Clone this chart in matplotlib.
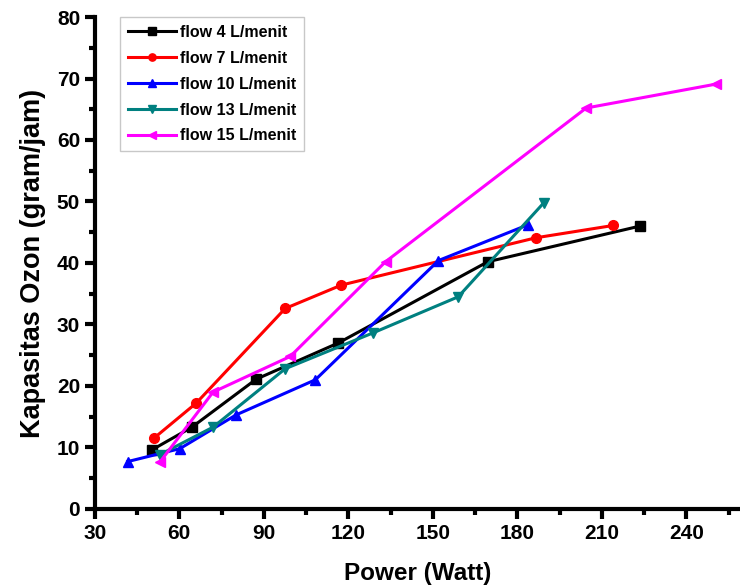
import matplotlib
matplotlib.use('Agg')
from matplotlib import pyplot as plt
from matplotlib.ticker import MultipleLocator

plt.rcParams['font.family'] = ['Liberation Sans', 'DejaVu Sans']
plt.rcParams['font.weight'] = 'bold'

# data
labels = ['flow 4 L/menit', 'flow 7 L/menit', 'flow 10 L/menit',
          'flow 13 L/menit', 'flow 15 L/menit']

power_4 = [50.3, 64.5, 87.3, 116.5, 169.5, 223.5]
ozon_4 = [9.6, 13.3, 21.1, 27.0, 40.2, 46.0]

power_7 = [51.0, 66.0, 97.6, 117.5, 186.6, 214.0]
ozon_7 = [11.5, 17.2, 32.6, 36.4, 44.1, 46.1]

power_10 = [41.7, 60.2, 80.2, 108.3, 152.0, 183.7]
ozon_10 = [7.7, 9.8, 15.3, 21.0, 40.4, 46.2]

power_13 = [53.0, 72.0, 97.6, 128.6, 159.0, 189.4]
ozon_13 = [8.8, 13.3, 22.8, 28.6, 34.5, 49.8]

power_15 = [53.1, 72.0, 99.4, 133.2, 204.4, 250.6]
ozon_15 = [7.6, 19.0, 24.8, 40.2, 65.2, 69.1]

series = [(power_4, ozon_4, 'black', 's'),
          (power_7, ozon_7, 'red', 'o'),
          (power_10, ozon_10, 'blue', '^'),
          (power_13, ozon_13, '#008080', 'v'),
          (power_15, ozon_15, 'magenta', '<')]

fig = plt.figure(figsize=(7.4, 5.87), dpi=100)
ax = fig.add_axes([0.128, 0.133, 0.872, 0.838])

for (xs, ys, col, mk), lab in zip(series, labels):
    ax.plot(xs, ys, color=col, marker=mk, markersize=7, linewidth=2.2, label=lab)

ax.set_xlim(30, 259)
ax.set_ylim(0, 80)
ax.xaxis.set_major_locator(MultipleLocator(30))
ax.xaxis.set_minor_locator(MultipleLocator(15))
ax.yaxis.set_major_locator(MultipleLocator(10))
ax.yaxis.set_minor_locator(MultipleLocator(5))

ax.spines['top'].set_visible(False)
ax.spines['right'].set_visible(False)
ax.spines['left'].set_linewidth(3)
ax.spines['bottom'].set_linewidth(3)
ax.tick_params(which='major', direction='out', length=7, width=3, labelsize=15)
ax.tick_params(which='minor', direction='out', length=4, width=3)

ax.set_xlabel('Power (Watt)', fontsize=17.5, fontweight='bold', labelpad=14)
ax.set_ylabel('Kapasitas Ozon (gram/jam)', fontsize=19.5, fontweight='bold', labelpad=8)

leg = ax.legend(loc='upper left', bbox_to_anchor=(0.039, 1.0), borderaxespad=0,
                fontsize=11.5, markerscale=0.75,
                fancybox=False, edgecolor='#bbbbbb', handlelength=3.0,
                handletextpad=0.25, borderpad=0.5, labelspacing=0.68)
leg.get_frame().set_linewidth(1)

fig.savefig('out.png', dpi=100)
